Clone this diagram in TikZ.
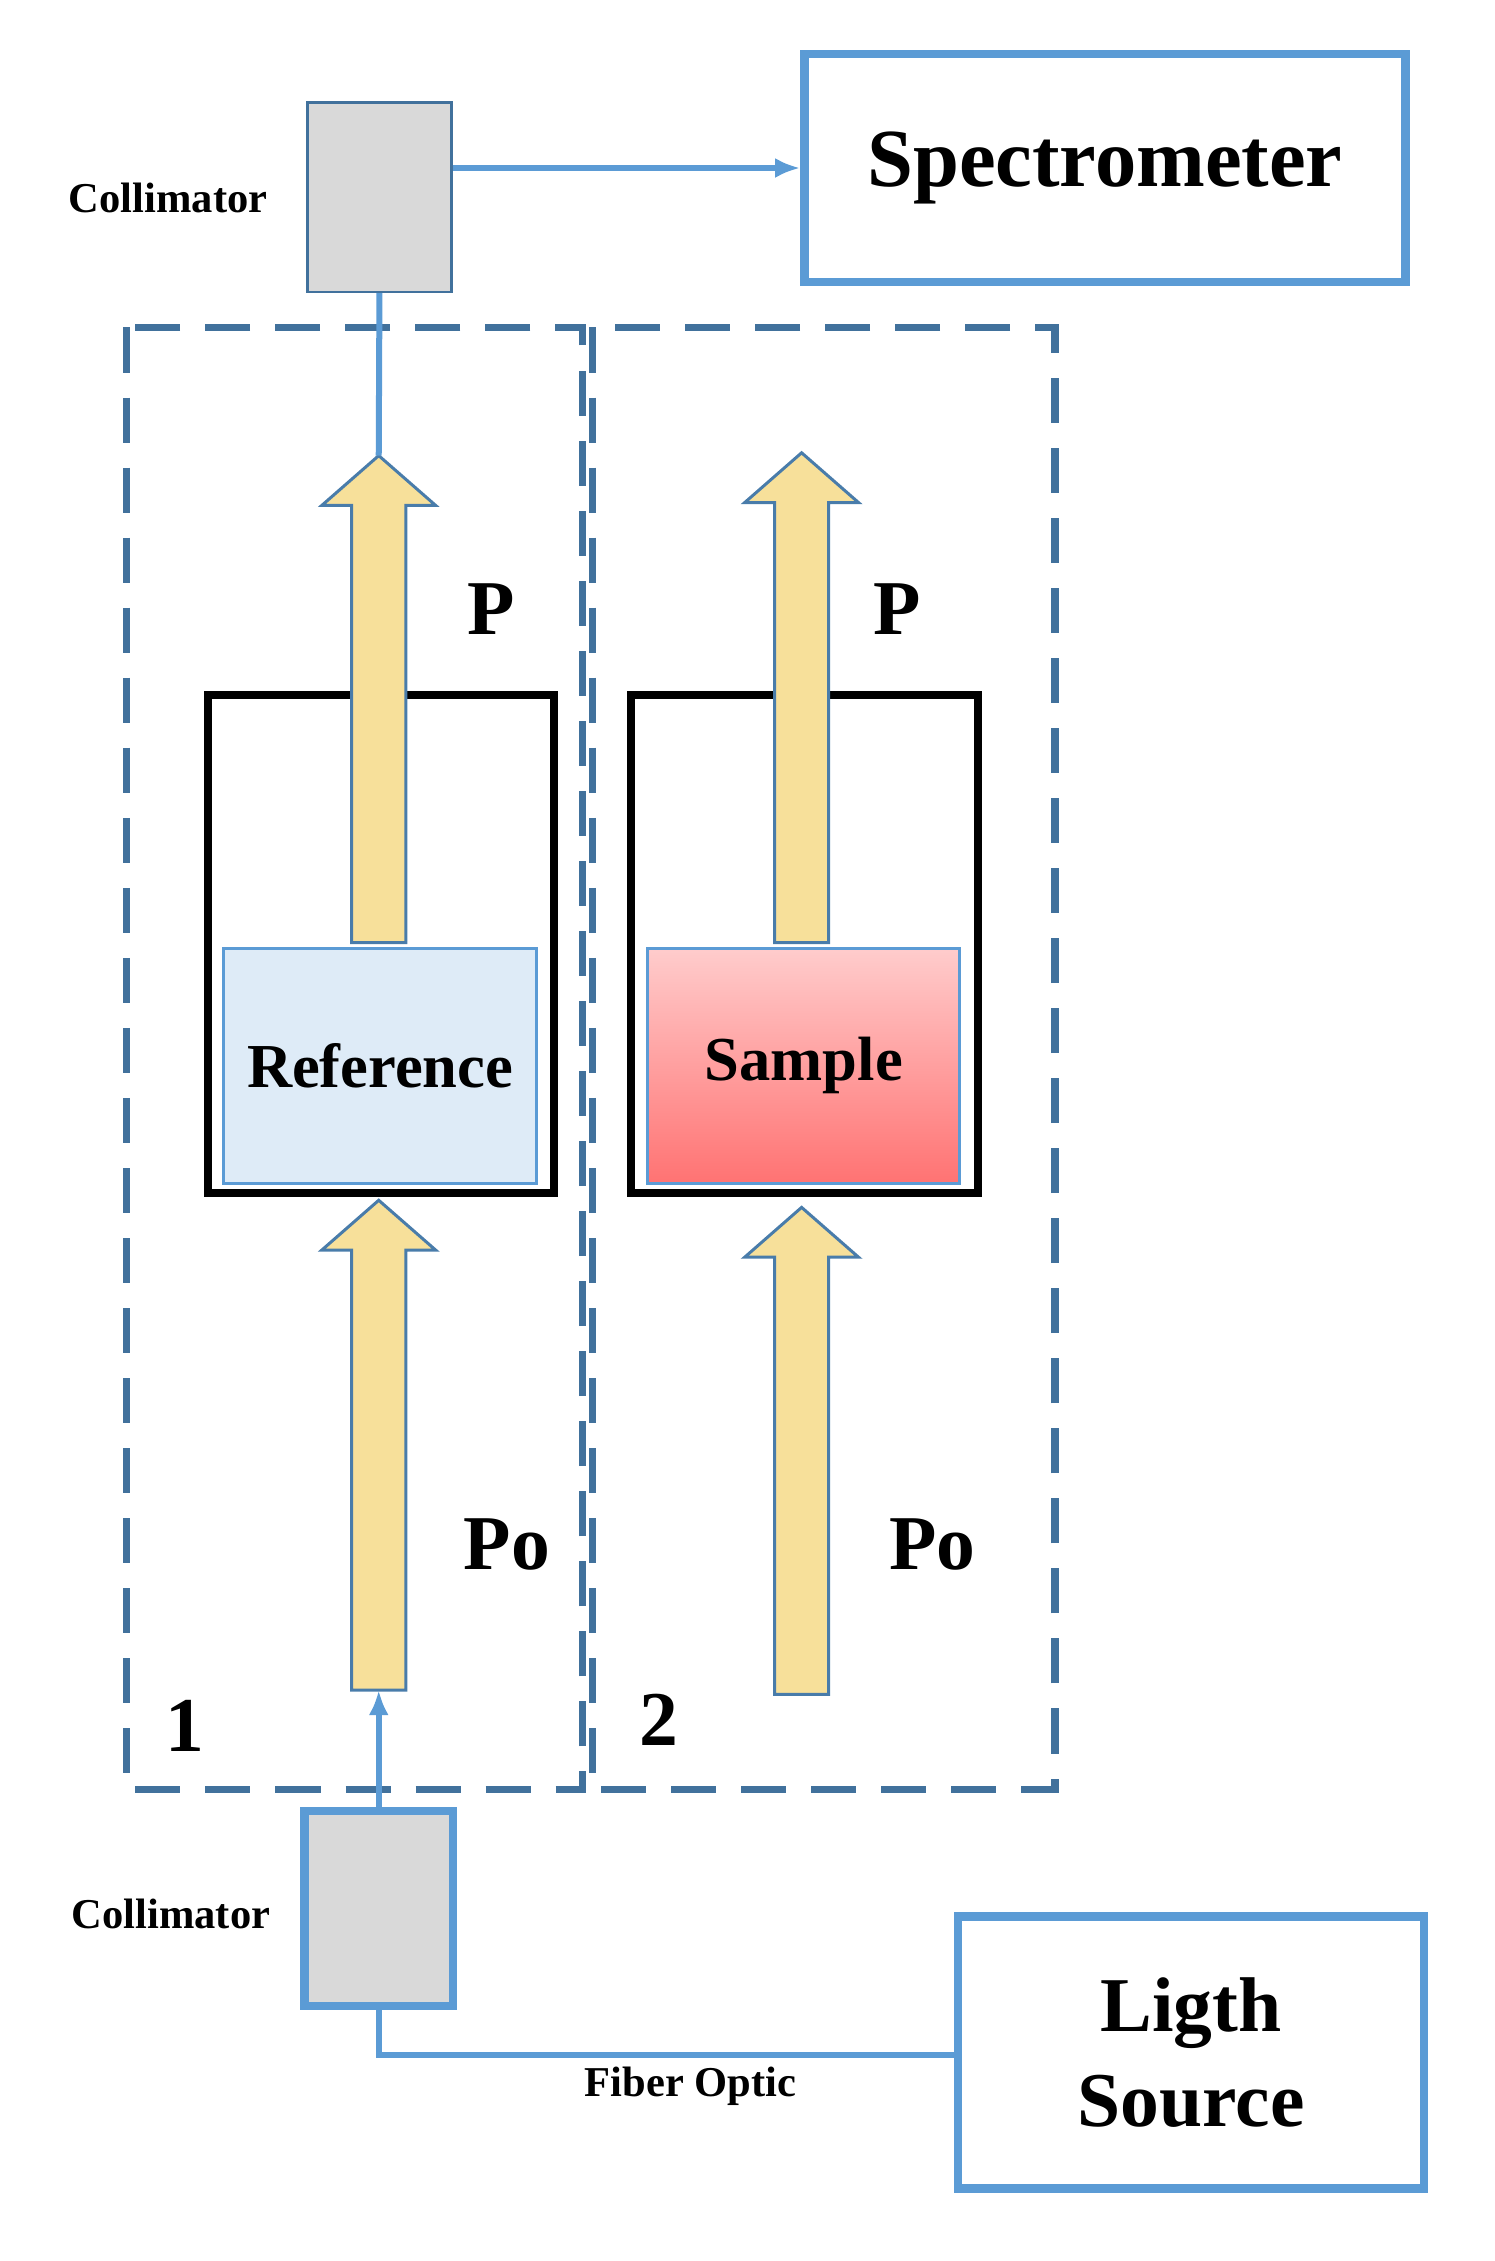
\documentclass[tikz,border=0pt]{standalone}
\usepackage{fontspec}
\setmainfont{Liberation Serif}
\usetikzlibrary{arrows.meta}
\definecolor{lineblue}{HTML}{5B9BD5}
\definecolor{dashblue}{HTML}{41719C}
\definecolor{beam}{HTML}{F7E09A}
\definecolor{refblue}{HTML}{DEEBF7}
\definecolor{boxgray}{HTML}{D9D9D9}
\newcommand{\fatarrow}[3]{% x center, y bottom, y tip
  \draw[lineblue!80!black, fill=beam, line width=1.2pt]
    (#1-19,#2) -- (#1+19,#2) -- (#1+19,#3+35) -- (#1+40,#3+35) -- (#1,#3)
    -- (#1-40,#3+35) -- (#1-19,#3+35) -- cycle;}
\begin{document}
\begin{tikzpicture}[x=0.02cm, y=-0.02cm]
    % Styles
    \tikzset{
      bigbox/.style = {draw=lineblue, line width=3.4pt, fill=white},
      label_txt/.style = {font=\bfseries\fontsize{31}{31}\selectfont},
      small_txt/.style = {font=\bfseries\fontsize{17}{17}\selectfont},
      link/.style = {draw=lineblue, line width=2.4pt}
    }
    \useasboundingbox (0,0) rectangle (1050,1588);

    % Dashed regions
    \draw[dashblue, line width=3pt, dash pattern=on 18pt off 10pt] (89,230) rectangle (409,1257);
    \draw[dashblue, line width=3pt, dash pattern=on 18pt off 10pt] (416,230) rectangle (741,1257);

    % Top collimator and spectrometer
    \node[draw=dashblue, fill=boxgray, line width=1pt, minimum width=101*0.02cm, minimum height=133*0.02cm] (coltop) at (266.5,138.5) {};
    \node[small_txt, anchor=east] (coltoplbl) at (194,139) {Collimator};
    \node[bigbox, minimum width=422*0.02cm, minimum height=160*0.02cm, font=\bfseries\fontsize{33}{33}\selectfont] (spec) at (776,118) {Spectrometer};
    \draw[link, -{Latex[length=10pt,width=8pt]}] (coltop.east |- spec.west) -- (spec.west);

    % Cuvettes
    \draw[black, line width=3pt] (146,488) rectangle (389,838);
    \draw[black, line width=3pt] (443,488) rectangle (687,838);
    \node[draw=lineblue, fill=refblue, line width=1.2pt, minimum width=220*0.02cm, minimum height=165*0.02cm, font=\bfseries\fontsize{25}{25}\selectfont] (ref) at (267,748.5) {\raisebox{-6pt}{Reference}};
    \shade[top color=red!20, bottom color=red!55] (455,666) rectangle (674,831);
    \node[draw=lineblue, line width=1.2pt, minimum width=219*0.02cm, minimum height=165*0.02cm, font=\bfseries\fontsize{25}{25}\selectfont] (sample) at (564.5,748.5) {\raisebox{-6pt}{Sample}};

    % Beams
    \fatarrow{266}{662}{320}
    \fatarrow{563}{662}{318}
    \fatarrow{266}{1187}{843}
    \fatarrow{563}{1190}{848}
    \coordinate (tip1) at (266,320);
    \coordinate (base1) at (266,1187);
    \draw[link] (coltop.south) -- (tip1);

    % Labels
    \node[label_txt] (p1) at (345,428) {P};
    \node[label_txt] (p2) at (630,428) {P};
    \node[label_txt] (po1) at (356,1085) {Po};
    \node[label_txt] (po2) at (655,1085) {Po};
    \node[label_txt] (n1) at (130,1212) {1};
    \node[label_txt] (n2) at (463,1208) {2};

    % Bottom collimator and light source
    \node[draw=lineblue, fill=boxgray, line width=3.4pt, minimum width=104*0.02cm, minimum height=137*0.02cm] (colbot) at (266,1340.5) {};
    \node[small_txt, anchor=east] (colbotlbl) at (196,1344) {Collimator};
    \draw[link, -{Latex[length=10pt,width=8pt]}] (colbot.north) -- (base1);
    \node[bigbox, minimum width=327*0.02cm, minimum height=191*0.02cm, align=center, font=\bfseries\fontsize{31}{38}\selectfont] (light) at (836.5,1441.5) {Ligth\\Source};
    \draw[link] (colbot.south) |- (light.west |- 0,1443);
    \node[small_txt] (fiber) at (485,1465) {Fiber Optic};
\end{tikzpicture}
\end{document}
